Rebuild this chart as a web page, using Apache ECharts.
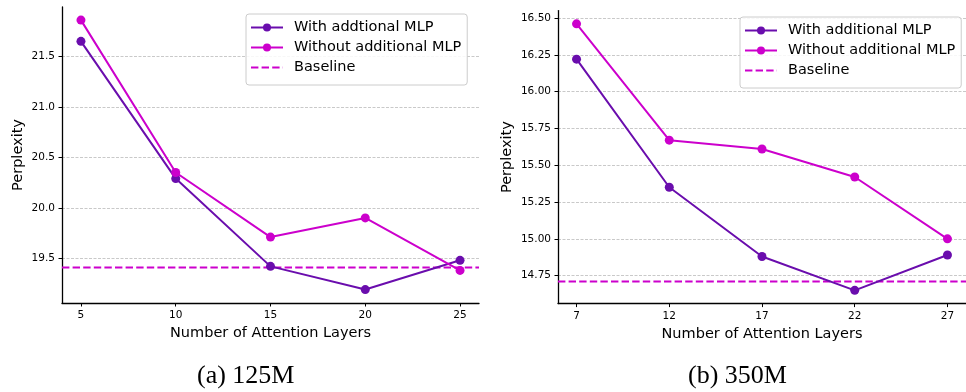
<!DOCTYPE html>
<html>
<head>
<meta charset="utf-8">
<script src="https://cdn.jsdelivr.net/npm/echarts@6/dist/echarts.min.js"></script>
<style>
html, body { margin: 0; padding: 0; background: #fff; }
#main { width: 966px; height: 392px; }
</style>
</head>
<body>
<div id="main"></div>
<script>
// (a) 125M
var layersA = [5, 10, 15, 20, 25];
var withA = [21.65, 20.29, 19.42, 19.19, 19.48];
var withoutA = [21.86, 20.35, 19.71, 19.90, 19.38];
var baselineA = 19.41;
var yTicksA = [19.5, 20.0, 20.5, 21.0, 21.5];
var xRangeA = [4, 26];
var yRangeA = [19.057, 21.99];

// (b) 350M
var layersB = [7, 12, 17, 22, 27];
var withB = [16.22, 15.35, 14.88, 14.65, 14.89];
var withoutB = [16.46, 15.67, 15.61, 15.42, 15.00];
var baselineB = 14.71;
var yTicksB = [14.75, 15.00, 15.25, 15.50, 15.75, 16.00, 16.25, 16.50];
var xRangeB = [6, 28];
var yRangeB = [14.56, 16.55];

var namesA = ['With addtional MLP', 'Without additional MLP', 'Baseline'];
var namesB = ['With additional MLP', 'Without additional MLP', 'Baseline'];
var captions = ['(a) 125M', '(b) 350M'];

var cWith = '#6a0dad';
var cWithout = '#cc00cc';
var cBase = '#cc00cc';

function zip(xs, ys) {
    var out = [];
    for (var i = 0; i < xs.length; i++) out.push([xs[i], ys[i]]);
    return out;
}

var myChart = echarts.init(document.getElementById('main'), null, {renderer: 'canvas'});

function xAxisOf(idx, range, ticks) {
    return {
        type: 'value', gridIndex: idx, min: range[0], max: range[1],
        name: 'Number of Attention Layers', nameLocation: 'middle', nameGap: 22,
        nameTextStyle: {fontFamily: 'DejaVu Sans', fontSize: 14.5, color: '#000'},
        axisLine: {show: true, lineStyle: {color: '#000', width: 1.3}},
        axisTick: {show: true, length: 3.5, lineStyle: {color: '#000', width: 1}, customValues: ticks},
        axisLabel: {customValues: ticks, fontFamily: 'DejaVu Sans', fontSize: 10.5, color: '#000', margin: 7},
        splitLine: {show: false}
    };
}
function yAxisOf(idx, range, ticks, dec, gap) {
    return {
        type: 'value', gridIndex: idx, min: range[0], max: range[1],
        name: 'Perplexity', nameLocation: 'middle', nameGap: gap, nameRotate: 90,
        nameTextStyle: {fontFamily: 'DejaVu Sans', fontSize: 14.5, color: '#000'},
        axisLine: {show: true, lineStyle: {color: '#000', width: 1.3}},
        axisTick: {show: true, length: 3.5, lineStyle: {color: '#000', width: 1}, customValues: ticks},
        axisLabel: {customValues: ticks, fontFamily: 'DejaVu Sans', fontSize: 10.5, color: '#000', margin: 7,
            formatter: function (v) { return v.toFixed(dec); }},
        splitLine: {show: true, lineStyle: {color: '#bbbbbb', width: 0.8, type: [3, 1.5]}}
    };
}
function lineSeries(name, idx, data, color) {
    return {
        name: name, type: 'line', xAxisIndex: idx, yAxisIndex: idx, data: data,
        symbol: 'circle', symbolSize: 9, color: color,
        lineStyle: {color: color, width: 2}, itemStyle: {color: color}, z: 3
    };
}
function baseSeries(idx, range, value) {
    return {
        name: 'Baseline', type: 'line', xAxisIndex: idx, yAxisIndex: idx,
        data: [[range[0], value], [range[1], value]],
        symbol: 'none', color: cBase,
        lineStyle: {color: cBase, width: 2, type: [7.4, 3.2]}, z: 2
    };
}
function legendOf(names, left, top) {
    // baseline entry: dashed line only, hide the default circle
    var data = [names[0], names[1], {name: names[2], itemStyle: {opacity: 0}}];
    return {
        data: data, orient: 'vertical', left: left, top: top,
        itemWidth: 32, itemHeight: 10, itemGap: 5,
        padding: [6, 6, 10, 4],
        backgroundColor: 'rgba(255,255,255,0.85)',
        borderColor: '#cccccc', borderWidth: 1, borderRadius: 3,
        textStyle: {fontFamily: 'DejaVu Sans', fontSize: 14.5, color: '#000', padding: [0, 0, 0, 6]},
        selectedMode: false, z: 10
    };
}

var option = {
    animation: false,
    backgroundColor: '#fff',
    grid: [
        {left: 62, top: 7, width: 417, height: 296},
        {left: 558, top: 10.6, width: 412, height: 293}
    ],
    xAxis: [xAxisOf(0, xRangeA, layersA), xAxisOf(1, xRangeB, layersB)],
    yAxis: [yAxisOf(0, yRangeA, yTicksA, 1, 36), yAxisOf(1, yRangeB, yTicksB, 2, 43)],
    legend: [legendOf(namesA, 246, 14), legendOf(namesB, 740, 17)],
    series: [
        lineSeries(namesA[0], 0, zip(layersA, withA), cWith),
        lineSeries(namesA[1], 0, zip(layersA, withoutA), cWithout),
        baseSeries(0, xRangeA, baselineA),
        lineSeries(namesB[0], 1, zip(layersB, withB), cWith),
        lineSeries(namesB[1], 1, zip(layersB, withoutB), cWithout),
        baseSeries(1, xRangeB, baselineB)
    ],
    graphic: [
        {type: 'text', left: 197, top: 363, style: {text: captions[0], font: '26px "Liberation Serif"', fill: '#000'}},
        {type: 'text', left: 688, top: 363, style: {text: captions[1], font: '26px "Liberation Serif"', fill: '#000'}}
    ]
};
myChart.setOption(option);
window.addEventListener('resize', function () {
    myChart.resize();
});
</script>
</body>
</html>
